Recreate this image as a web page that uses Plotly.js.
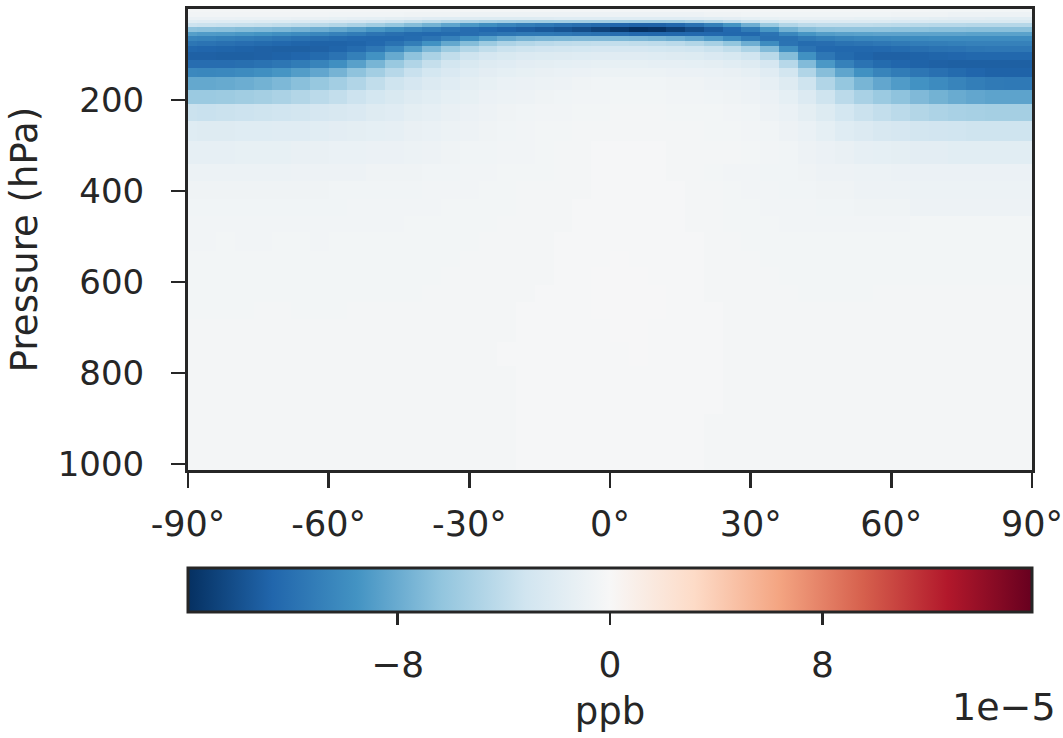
<!DOCTYPE html>
<html>
<head>
<meta charset="utf-8">
<script src="https://cdn.plot.ly/plotly-3.0.1.min.js"></script>
<style>html,body{margin:0;padding:0;background:#fff;}#chart{width:1063px;height:738px;}</style>
</head>
<body>
<div id="chart"></div>
<script>
// Latitude cell edges (degrees), 4x5-type grid
const latEdges = [-90,-88,-84,-80,-76,-72,-68,-64,-60,-56,-52,-48,-44,-40,-36,-32,-28,-24,-20,-16,-12,-8,-4,0,4,8,12,16,20,24,28,32,36,40,44,48,52,56,60,64,68,72,76,80,84,88,90];
// Pressure cell edges (hPa), top to surface
const pressureEdges = [0.01,6,17,24,31,40,50,60,70,81,95,112,130,150,177,209,246,290,340,378,417,454,491,531,568,606,644,682,733,784,830,891,952,1013.25];
// Zonal-mean difference (units of 1e-5 ppb); one profile per latitude cell, top -> surface
const profiles = [
[-0.3,-0.5,-1.0,-1.8,-3.4,-6.5,-8.8,-10.5,-11.6,-12.6,-13.0,-12.2,-10.3,-8.2,-5.9,-3.5,-2.0,-1.4,-0.9,-0.7,-0.6,-0.5,-0.5,-0.4,-0.4,-0.4,-0.4,-0.3,-0.3,-0.3,-0.3,-0.3,-0.3],
[-0.3,-0.5,-1.0,-1.9,-3.5,-6.6,-9.0,-10.7,-11.8,-12.7,-13.0,-12.2,-10.4,-8.2,-5.9,-3.6,-2.1,-1.4,-0.9,-0.7,-0.6,-0.5,-0.5,-0.4,-0.4,-0.4,-0.4,-0.3,-0.3,-0.3,-0.3,-0.3,-0.3],
[-0.3,-0.5,-1.0,-2.0,-3.6,-6.7,-9.1,-10.9,-12.0,-12.8,-13.1,-12.2,-10.3,-8.1,-5.8,-3.5,-2.1,-1.4,-0.9,-0.7,-0.6,-0.5,-0.4,-0.4,-0.4,-0.4,-0.4,-0.3,-0.3,-0.3,-0.3,-0.3,-0.3],
[-0.3,-0.5,-1.1,-2.0,-3.7,-6.9,-9.3,-11.1,-12.2,-12.9,-13.1,-12.1,-10.1,-7.9,-5.6,-3.4,-2.0,-1.3,-0.9,-0.7,-0.6,-0.5,-0.5,-0.4,-0.4,-0.4,-0.4,-0.3,-0.3,-0.3,-0.3,-0.3,-0.3],
[-0.3,-0.5,-1.1,-2.1,-3.8,-7.0,-9.5,-11.3,-12.4,-13.0,-13.0,-11.9,-9.8,-7.6,-5.4,-3.3,-2.0,-1.3,-0.9,-0.7,-0.6,-0.5,-0.5,-0.4,-0.4,-0.4,-0.3,-0.3,-0.3,-0.3,-0.3,-0.3,-0.3],
[-0.3,-0.5,-1.1,-2.2,-4.0,-7.2,-9.8,-11.6,-12.6,-13.1,-12.9,-11.6,-9.4,-7.2,-5.1,-3.2,-1.9,-1.3,-0.9,-0.7,-0.6,-0.5,-0.4,-0.4,-0.4,-0.4,-0.3,-0.3,-0.3,-0.3,-0.3,-0.3,-0.3],
[-0.3,-0.5,-1.2,-2.3,-4.2,-7.5,-10.1,-11.9,-12.8,-13.1,-12.7,-11.2,-8.9,-6.7,-4.7,-3.0,-1.9,-1.2,-0.8,-0.7,-0.6,-0.5,-0.4,-0.4,-0.4,-0.4,-0.4,-0.3,-0.3,-0.3,-0.3,-0.3,-0.3],
[-0.3,-0.5,-1.2,-2.4,-4.4,-7.8,-10.4,-12.1,-12.9,-13.0,-12.4,-10.6,-8.3,-6.1,-4.3,-2.8,-1.8,-1.2,-0.8,-0.7,-0.6,-0.5,-0.5,-0.4,-0.4,-0.4,-0.4,-0.3,-0.3,-0.3,-0.3,-0.3,-0.3],
[-0.3,-0.6,-1.3,-2.6,-4.7,-8.2,-10.8,-12.3,-12.9,-12.8,-11.8,-9.8,-7.5,-5.5,-3.9,-2.6,-1.7,-1.1,-0.8,-0.6,-0.6,-0.5,-0.4,-0.4,-0.4,-0.4,-0.4,-0.3,-0.3,-0.3,-0.3,-0.3,-0.3],
[-0.3,-0.6,-1.4,-2.8,-5.1,-8.7,-11.2,-12.5,-12.8,-12.3,-10.9,-8.7,-6.5,-4.8,-3.4,-2.4,-1.6,-1.1,-0.8,-0.6,-0.5,-0.5,-0.4,-0.4,-0.4,-0.4,-0.3,-0.3,-0.3,-0.3,-0.3,-0.3,-0.3],
[-0.3,-0.6,-1.5,-3.1,-5.6,-9.3,-11.7,-12.6,-12.5,-11.5,-9.6,-7.4,-5.5,-4.0,-2.9,-2.1,-1.5,-1.0,-0.7,-0.6,-0.5,-0.5,-0.4,-0.4,-0.4,-0.4,-0.3,-0.3,-0.3,-0.3,-0.3,-0.3,-0.3],
[-0.3,-0.6,-1.6,-3.4,-6.2,-9.9,-12.1,-12.6,-11.9,-10.3,-8.1,-6.0,-4.5,-3.3,-2.5,-1.9,-1.4,-1.0,-0.7,-0.6,-0.5,-0.5,-0.4,-0.4,-0.4,-0.4,-0.3,-0.3,-0.3,-0.3,-0.3,-0.3,-0.3],
[-0.3,-0.7,-1.7,-3.8,-6.9,-10.5,-12.4,-12.3,-11.0,-8.8,-6.5,-4.8,-3.6,-2.8,-2.1,-1.6,-1.2,-0.9,-0.7,-0.6,-0.5,-0.4,-0.4,-0.4,-0.4,-0.4,-0.3,-0.3,-0.3,-0.3,-0.3,-0.3,-0.3],
[-0.3,-0.7,-1.9,-4.2,-7.6,-11.1,-12.5,-11.7,-9.6,-7.2,-5.1,-3.8,-2.9,-2.3,-1.8,-1.4,-1.1,-0.8,-0.6,-0.5,-0.5,-0.4,-0.4,-0.4,-0.4,-0.3,-0.3,-0.3,-0.3,-0.3,-0.3,-0.3,-0.3],
[-0.3,-0.7,-2.0,-4.6,-8.4,-11.7,-12.4,-10.8,-8.2,-5.8,-4.0,-3.0,-2.4,-1.9,-1.5,-1.2,-0.9,-0.7,-0.6,-0.5,-0.4,-0.4,-0.4,-0.4,-0.3,-0.3,-0.3,-0.3,-0.3,-0.3,-0.3,-0.3,-0.3],
[-0.3,-0.8,-2.1,-5.0,-9.2,-12.2,-12.2,-9.8,-6.9,-4.7,-3.3,-2.5,-2.0,-1.6,-1.3,-1.0,-0.8,-0.6,-0.5,-0.5,-0.4,-0.4,-0.4,-0.3,-0.3,-0.3,-0.3,-0.3,-0.3,-0.3,-0.3,-0.3,-0.3],
[-0.3,-0.8,-2.2,-5.3,-9.9,-12.6,-11.9,-8.8,-5.8,-4.0,-2.8,-2.1,-1.7,-1.3,-1.0,-0.8,-0.7,-0.6,-0.5,-0.4,-0.4,-0.4,-0.3,-0.3,-0.3,-0.3,-0.3,-0.3,-0.3,-0.3,-0.3,-0.3,-0.3],
[-0.3,-0.8,-2.2,-5.5,-10.5,-12.9,-11.6,-8.0,-5.0,-3.5,-2.5,-1.9,-1.5,-1.1,-0.9,-0.7,-0.6,-0.5,-0.4,-0.4,-0.4,-0.3,-0.3,-0.3,-0.3,-0.3,-0.3,-0.3,-0.2,-0.3,-0.3,-0.3,-0.3],
[-0.3,-0.8,-2.2,-5.6,-11.0,-13.2,-11.4,-7.5,-4.6,-3.3,-2.3,-1.7,-1.3,-1.0,-0.8,-0.6,-0.5,-0.5,-0.4,-0.3,-0.3,-0.3,-0.3,-0.3,-0.3,-0.3,-0.2,-0.2,-0.2,-0.2,-0.2,-0.2,-0.2],
[-0.3,-0.8,-2.1,-5.6,-11.4,-13.5,-11.4,-7.3,-4.3,-3.1,-2.2,-1.6,-1.2,-0.9,-0.7,-0.5,-0.4,-0.4,-0.4,-0.3,-0.3,-0.3,-0.3,-0.3,-0.3,-0.2,-0.2,-0.2,-0.2,-0.2,-0.2,-0.2,-0.2],
[-0.3,-0.8,-2.0,-5.5,-11.8,-13.8,-11.5,-7.2,-4.1,-3.0,-2.1,-1.5,-1.1,-0.8,-0.6,-0.5,-0.4,-0.3,-0.3,-0.3,-0.3,-0.3,-0.2,-0.2,-0.2,-0.2,-0.2,-0.2,-0.2,-0.2,-0.2,-0.2,-0.2],
[-0.3,-0.8,-2.0,-5.5,-12.1,-14.2,-11.7,-7.1,-4.0,-2.9,-2.0,-1.4,-1.0,-0.7,-0.5,-0.4,-0.3,-0.3,-0.3,-0.3,-0.2,-0.2,-0.2,-0.2,-0.2,-0.2,-0.2,-0.2,-0.2,-0.2,-0.2,-0.2,-0.2],
[-0.3,-0.8,-2.0,-5.5,-12.4,-14.8,-11.9,-7.1,-3.9,-2.8,-1.9,-1.3,-0.9,-0.6,-0.5,-0.4,-0.3,-0.2,-0.2,-0.2,-0.2,-0.2,-0.2,-0.2,-0.1,-0.1,-0.1,-0.2,-0.2,-0.2,-0.2,-0.2,-0.2],
[-0.3,-0.8,-2.0,-5.6,-12.7,-15.4,-12.2,-7.2,-3.9,-2.8,-1.9,-1.3,-0.9,-0.6,-0.4,-0.3,-0.3,-0.2,-0.2,-0.2,-0.2,-0.2,-0.2,-0.1,-0.1,-0.1,-0.1,-0.1,-0.2,-0.2,-0.2,-0.2,-0.2],
[-0.3,-0.8,-2.0,-5.7,-12.9,-15.9,-12.5,-7.3,-4.0,-2.8,-1.9,-1.3,-0.9,-0.6,-0.4,-0.3,-0.3,-0.2,-0.2,-0.2,-0.2,-0.2,-0.2,-0.2,-0.1,-0.1,-0.1,-0.1,-0.1,-0.2,-0.2,-0.2,-0.2],
[-0.3,-0.8,-2.0,-5.7,-12.9,-15.7,-12.6,-7.5,-4.1,-2.9,-2.0,-1.4,-0.9,-0.6,-0.4,-0.3,-0.3,-0.2,-0.2,-0.2,-0.2,-0.2,-0.2,-0.2,-0.2,-0.1,-0.1,-0.2,-0.2,-0.2,-0.2,-0.2,-0.2],
[-0.3,-0.8,-2.0,-5.6,-12.6,-15.0,-12.6,-7.8,-4.3,-3.0,-2.1,-1.4,-1.0,-0.7,-0.5,-0.4,-0.3,-0.3,-0.3,-0.2,-0.2,-0.2,-0.2,-0.2,-0.2,-0.2,-0.2,-0.2,-0.2,-0.2,-0.2,-0.2,-0.2],
[-0.3,-0.8,-1.9,-5.2,-11.9,-14.2,-12.5,-8.3,-4.7,-3.2,-2.2,-1.5,-1.0,-0.7,-0.5,-0.4,-0.3,-0.3,-0.3,-0.3,-0.3,-0.3,-0.2,-0.2,-0.2,-0.2,-0.2,-0.2,-0.2,-0.2,-0.2,-0.2,-0.2],
[-0.3,-0.7,-1.8,-4.7,-10.9,-13.4,-12.5,-9.0,-5.3,-3.5,-2.4,-1.6,-1.1,-0.8,-0.6,-0.4,-0.4,-0.3,-0.4,-0.3,-0.3,-0.3,-0.3,-0.3,-0.3,-0.3,-0.2,-0.2,-0.2,-0.2,-0.2,-0.3,-0.3],
[-0.3,-0.7,-1.7,-4.1,-9.5,-12.5,-12.6,-10.0,-6.3,-4.0,-2.7,-1.8,-1.2,-0.9,-0.7,-0.5,-0.4,-0.3,-0.5,-0.4,-0.4,-0.4,-0.3,-0.3,-0.3,-0.3,-0.3,-0.3,-0.3,-0.3,-0.3,-0.3,-0.3],
[-0.3,-0.6,-1.5,-3.5,-7.8,-11.2,-12.6,-11.2,-7.8,-5.0,-3.2,-2.1,-1.4,-1.0,-0.8,-0.6,-0.5,-0.4,-0.5,-0.5,-0.4,-0.4,-0.4,-0.3,-0.3,-0.3,-0.3,-0.3,-0.3,-0.3,-0.3,-0.3,-0.3],
[-0.3,-0.6,-1.3,-2.9,-6.0,-9.3,-11.8,-12.0,-10.0,-7.0,-4.4,-2.8,-1.9,-1.4,-1.0,-0.8,-0.6,-0.5,-0.6,-0.5,-0.5,-0.4,-0.4,-0.4,-0.3,-0.3,-0.3,-0.3,-0.3,-0.3,-0.3,-0.3,-0.3],
[-0.3,-0.6,-1.2,-2.5,-4.8,-7.6,-10.4,-11.9,-11.8,-9.8,-6.9,-4.5,-3.0,-2.1,-1.5,-1.1,-0.8,-0.6,-0.6,-0.6,-0.5,-0.5,-0.4,-0.4,-0.4,-0.3,-0.3,-0.3,-0.3,-0.3,-0.3,-0.3,-0.3],
[-0.3,-0.6,-1.2,-2.3,-4.3,-6.8,-9.4,-11.3,-12.3,-11.8,-9.7,-7.0,-4.8,-3.3,-2.3,-1.6,-1.1,-0.8,-0.7,-0.6,-0.5,-0.5,-0.4,-0.4,-0.4,-0.4,-0.3,-0.3,-0.3,-0.3,-0.3,-0.3,-0.3],
[-0.3,-0.6,-1.2,-2.3,-4.1,-6.5,-8.9,-10.9,-12.2,-12.5,-11.5,-9.2,-6.8,-4.8,-3.3,-2.2,-1.5,-1.0,-0.8,-0.7,-0.6,-0.5,-0.4,-0.4,-0.4,-0.4,-0.3,-0.3,-0.3,-0.3,-0.3,-0.3,-0.3],
[-0.3,-0.6,-1.2,-2.3,-4.1,-6.4,-8.7,-10.6,-11.9,-12.6,-12.4,-10.8,-8.4,-6.2,-4.3,-2.9,-2.0,-1.2,-0.8,-0.7,-0.6,-0.5,-0.4,-0.4,-0.4,-0.4,-0.3,-0.3,-0.3,-0.3,-0.3,-0.3,-0.3],
[-0.3,-0.6,-1.3,-2.3,-4.1,-6.4,-8.6,-10.4,-11.7,-12.6,-12.8,-11.8,-9.7,-7.4,-5.2,-3.5,-2.3,-1.4,-0.9,-0.8,-0.7,-0.5,-0.4,-0.4,-0.4,-0.4,-0.3,-0.3,-0.3,-0.3,-0.3,-0.3,-0.3],
[-0.3,-0.6,-1.3,-2.3,-4.2,-6.4,-8.5,-10.3,-11.5,-12.5,-13.0,-12.4,-10.6,-8.3,-5.9,-3.9,-2.6,-1.5,-0.9,-0.8,-0.7,-0.5,-0.4,-0.4,-0.4,-0.3,-0.3,-0.3,-0.3,-0.3,-0.3,-0.3,-0.3],
[-0.3,-0.7,-1.4,-2.4,-4.3,-6.5,-8.5,-10.2,-11.3,-12.3,-13.0,-12.7,-11.2,-9.0,-6.5,-4.3,-2.8,-1.6,-1.0,-0.8,-0.7,-0.5,-0.4,-0.4,-0.4,-0.3,-0.3,-0.3,-0.3,-0.3,-0.3,-0.3,-0.3],
[-0.3,-0.7,-1.5,-2.4,-4.4,-6.5,-8.5,-10.1,-11.1,-12.1,-12.9,-12.9,-11.6,-9.6,-7.1,-4.7,-3.0,-1.7,-1.0,-0.9,-0.8,-0.4,-0.4,-0.4,-0.4,-0.3,-0.3,-0.3,-0.3,-0.3,-0.3,-0.3,-0.3],
[-0.4,-0.7,-1.6,-2.5,-4.5,-6.6,-8.5,-10.0,-11.0,-11.9,-12.8,-13.0,-12.0,-10.1,-7.6,-5.0,-3.1,-1.7,-1.0,-0.9,-0.8,-0.4,-0.4,-0.4,-0.4,-0.3,-0.3,-0.3,-0.3,-0.3,-0.3,-0.3,-0.3],
[-0.4,-0.8,-1.7,-2.5,-4.5,-6.6,-8.5,-10.0,-10.9,-11.8,-12.7,-13.1,-12.4,-10.6,-8.0,-5.2,-3.2,-1.8,-1.0,-0.9,-0.8,-0.4,-0.4,-0.4,-0.4,-0.3,-0.3,-0.3,-0.3,-0.3,-0.3,-0.3,-0.3],
[-0.4,-0.8,-1.7,-2.5,-4.6,-6.7,-8.6,-10.0,-10.8,-11.6,-12.6,-13.1,-12.7,-11.0,-8.3,-5.3,-3.3,-1.8,-1.0,-0.9,-0.8,-0.4,-0.4,-0.4,-0.4,-0.3,-0.3,-0.3,-0.3,-0.3,-0.3,-0.3,-0.3],
[-0.4,-0.8,-1.8,-2.5,-4.6,-6.7,-8.6,-10.0,-10.8,-11.5,-12.6,-13.1,-12.9,-11.3,-8.5,-5.4,-3.3,-1.8,-1.0,-0.9,-0.8,-0.4,-0.4,-0.4,-0.4,-0.3,-0.3,-0.3,-0.3,-0.3,-0.3,-0.3,-0.3],
[-0.4,-0.8,-1.8,-2.5,-4.6,-6.7,-8.6,-10.0,-10.8,-11.5,-12.6,-13.1,-12.9,-11.4,-8.5,-5.4,-3.3,-1.8,-1.0,-0.9,-0.8,-0.4,-0.4,-0.4,-0.4,-0.3,-0.3,-0.3,-0.3,-0.3,-0.3,-0.3,-0.3],
[-0.4,-0.8,-1.8,-2.5,-4.6,-6.7,-8.6,-10.0,-10.8,-11.5,-12.6,-13.1,-12.9,-11.4,-8.5,-5.4,-3.3,-1.8,-1.0,-0.9,-0.8,-0.4,-0.4,-0.4,-0.4,-0.3,-0.3,-0.3,-0.3,-0.3,-0.3,-0.3,-0.3]
];
const xTickVals = [-90,-60,-30,0,30,60,90];
const xTickText = ['-90°','-60°','-30°','0°','30°','60°','90°'];
const yTickVals = [200,400,600,800,1000];
const cbTickVals = [-8,0,8];
const cbTickText = ['\u22128','0','8'];
const zLimit = 15.9;

const rdbu_r = [
  [0.0,'#053061'],[0.1,'#2166ac'],[0.2,'#4393c3'],[0.3,'#92c5de'],[0.4,'#d1e5f0'],
  [0.5,'#f7f7f7'],[0.6,'#fddbc7'],[0.7,'#f4a582'],[0.8,'#d6604d'],[0.9,'#b2182b'],[1.0,'#67001f']
];

const W = 1063, H = 738;
const plotL = 188, plotR = 1032, plotT = 9, plotB = 470;
const cbTop = 568, cbBot = 612;
const ink = '#262626';
const font = 'DejaVu Sans, sans-serif';

const heat = {
  type: 'heatmap',
  x: latEdges,
  y: pressureEdges,
  z: profiles,
  transpose: true,
  zmin: -zLimit, zmax: zLimit,
  colorscale: rdbu_r,
  zsmooth: false,
  hoverinfo: 'skip',
  colorbar: {
    orientation: 'h',
    x: plotL / W, xanchor: 'left',
    len: (plotR - plotL) / W, lenmode: 'fraction',
    y: (H - cbTop) / H, yanchor: 'top',
    thickness: cbBot - cbTop, thicknessmode: 'pixels',
    xpad: 0, ypad: 0,
    outlinewidth: 3, outlinecolor: ink,
    ticks: '', showticklabels: false
  }
};
// carrier so the colourbar's value axis (x2) is drawn with its ticks and title
const cbAxisCarrier = {
  type: 'scatter', x: [], y: [], xaxis: 'x2', yaxis: 'y2',
  mode: 'markers', hoverinfo: 'skip', showlegend: false
};

const layout = {
  width: W, height: H,
  margin: {l: 0, r: 0, t: 0, b: 0},
  paper_bgcolor: '#ffffff',
  plot_bgcolor: 'rgba(0,0,0,0)',
  font: {family: font, color: ink},
  showlegend: false,
  xaxis: {
    domain: [plotL / W, plotR / W],
    anchor: 'y',
    range: [-90, 90],
    tickvals: xTickVals, ticktext: xTickText,
    ticks: 'outside', ticklen: 15, tickwidth: 2.5, tickcolor: ink,
    showline: true, linewidth: 3, linecolor: ink, mirror: true,
    showgrid: false, zeroline: false,
    tickfont: {size: 35, family: font, color: ink},
    ticklabelstandoff: 6,
    ticklabeloverflow: 'allow'
  },
  yaxis: {
    domain: [(H - plotB) / H, (H - plotT) / H],
    anchor: 'x',
    range: [1013.25, 0.01],
    tickvals: yTickVals,
    ticks: 'outside', ticklen: 14, tickwidth: 2.5, tickcolor: ink,
    showline: true, linewidth: 3, linecolor: ink, mirror: true,
    showgrid: false, zeroline: false,
    tickfont: {size: 34, family: font, color: ink},
    ticklabelstandoff: 20,
    ticklabeloverflow: 'allow',
    title: {text: 'Pressure (hPa)', font: {size: 37, family: font, color: ink}, standoff: 9}
  },
  xaxis2: {
    domain: [plotL / W, plotR / W],
    anchor: 'y2',
    range: [-zLimit, zLimit],
    tickvals: cbTickVals, ticktext: cbTickText,
    ticks: 'outside', ticklen: 12, tickwidth: 2.5, tickcolor: ink,
    showline: false, showgrid: false, zeroline: false,
    tickfont: {size: 36, family: font, color: ink},
    ticklabelstandoff: 9,
    ticklabeloverflow: 'allow',
    title: {text: 'ppb', font: {size: 37, family: font, color: ink}, standoff: 13}
  },
  yaxis2: {
    domain: [(H - cbBot) / H, (H - cbTop) / H],
    anchor: 'x2',
    range: [0, 1],
    visible: false
  },
  annotations: [{
    text: '1e\u22125', xref: 'paper', yref: 'paper',
    x: 1058 / W, xanchor: 'right', y: (H - 707) / H, yanchor: 'middle',
    showarrow: false, font: {size: 38, family: font, color: ink}
  }]
};

Plotly.newPlot('chart', [heat, cbAxisCarrier], layout, {staticPlot: true, displayModeBar: false});
</script>
</body>
</html>
